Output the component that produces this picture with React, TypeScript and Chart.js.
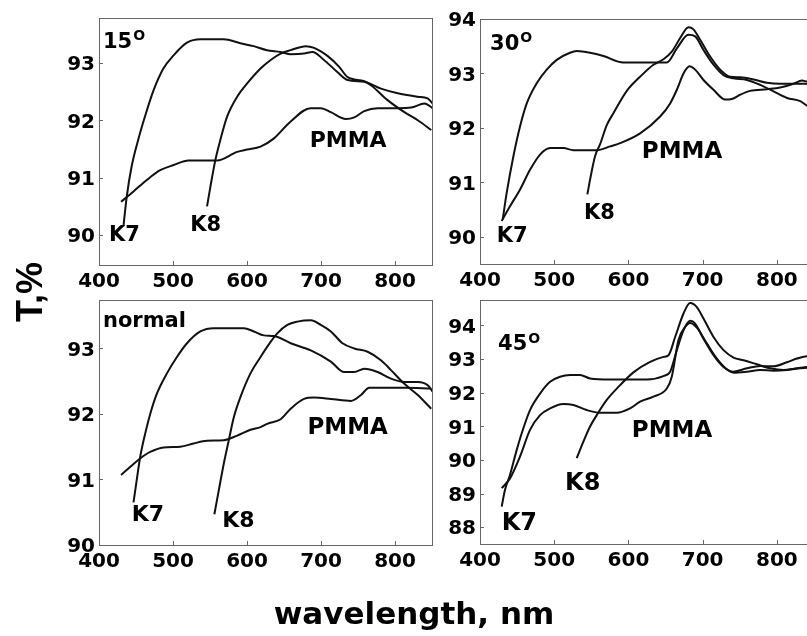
import React, { useEffect, useRef } from "react";
import { Chart, registerables } from "chart.js";
Chart.register(...registerables);

type Pt = [number, number];

// ---------- data ----------
const xTicks = [400, 500, 600, 700, 800];
const xMin = 400;
const xMax = 850;

// 15 degrees
const yTicks15 = [90, 91, 92, 93];
const k7_15: Pt[] = [[433,90.15],[437.5,90.67],[444,91.19],[453,91.66],[462,92.06],[473.7,92.52],[487,92.9],[500.8,93.13],[518.9,93.35],[537,93.41],[568.6,93.41],[591,93.34],[609,93.29],[627,93.22],[645.5,93.19],[659,93.15],[677,93.16],[688.4,93.19],[704,93.05],[722,92.84],[736,92.7],[758.5,92.67],[781,92.55],[803.7,92.47],[830.8,92.41],[844,92.38],[851,92.29]];
const k8_15: Pt[] = [[546,90.5],[550.5,90.84],[557.3,91.31],[564,91.66],[573,92.06],[586.7,92.41],[600.2,92.64],[618.3,92.9],[632,93.05],[645.5,93.16],[659,93.22],[679.4,93.29],[690.7,93.26],[708.7,93.12],[724.6,92.93],[736,92.75],[758.5,92.68],[767.5,92.61],[790,92.35],[812.7,92.14],[830.8,92.0],[849,91.83]];
const pm_15: Pt[] = [[429.8,90.58],[446.6,90.76],[464.6,90.96],[482.7,91.13],[500.8,91.22],[521,91.3],[559.5,91.3],[586.7,91.45],[600.2,91.49],[618.3,91.54],[636,91.68],[659,91.98],[686,92.21],[699.7,92.21],[713.3,92.14],[733.6,92.02],[745,92.05],[758.5,92.16],[776.5,92.21],[803.7,92.21],[821.8,92.22],[839.9,92.29],[851,92.21]];

// 30 degrees
const yTicks30 = [90, 91, 92, 93, 94];
const k7_30: Pt[] = [[430.6,90.32],[436,90.81],[445,91.48],[454,92.03],[463,92.45],[476.4,92.82],[489.9,93.07],[503.4,93.25],[521.3,93.38],[530.3,93.41],[548.3,93.38],[566.3,93.32],[593,93.2],[624.7,93.2],[642.7,93.2],[651.7,93.2],[665.2,93.46],[680.9,93.71],[689.9,93.68],[701.1,93.43],[714.6,93.16],[728.1,92.97],[741.6,92.91],[759.6,92.88],[777.5,92.79],[795.5,92.67],[813.5,92.55],[831.5,92.49],[840.5,92.41],[850,92.36]];
const k8_30: Pt[] = [[544.7,90.78],[548.3,91.05],[555,91.48],[561.8,91.7],[570.8,92.05],[579.8,92.27],[597.8,92.68],[615.7,92.94],[633.7,93.16],[647.2,93.26],[658.4,93.4],[669.7,93.65],[680.9,93.85],[687.6,93.81],[696.6,93.62],[710.1,93.31],[723.6,93.07],[737.1,92.94],[750.6,92.93],[768.5,92.89],[786.5,92.83],[804.5,92.81],[840.5,92.81],[850,92.81]];
const pm_30: Pt[] = [[429.2,90.29],[440.4,90.56],[454,90.87],[467.4,91.23],[480.9,91.51],[494.4,91.63],[512.4,91.63],[525.8,91.59],[557.3,91.59],[575.3,91.66],[588.8,91.72],[615.7,91.9],[642.7,92.21],[656.2,92.45],[665.2,92.7],[674.2,93.0],[682.3,93.13],[689.9,93.07],[701.1,92.88],[714.6,92.7],[730.3,92.52],[739.3,92.53],[750.6,92.61],[764,92.68],[786.5,92.71],[804.5,92.74],[822.5,92.81],[833.7,92.87],[840.5,92.85],[850,92.83]];

// normal incidence
const yTicksN = [90, 91, 92, 93];
const k7_n: Pt[] = [[446.6,90.65],[450.2,90.93],[455.6,91.34],[462.4,91.7],[469.2,92.0],[478.2,92.31],[491.8,92.62],[505.3,92.87],[518.9,93.08],[537,93.26],[555,93.31],[595.7,93.31],[609.3,93.26],[622.8,93.2],[636.4,93.19],[659,93.08],[686.2,92.97],[713.3,92.8],[731.3,92.64],[744.9,92.64],[758.5,92.69],[776.5,92.64],[794.6,92.54],[812.7,92.49],[830.8,92.49],[844.3,92.44],[851,92.34]];
const k8_n: Pt[] = [[555.9,90.47],[561.8,90.83],[568.6,91.24],[575.4,91.6],[582.2,91.95],[591.2,92.26],[604.7,92.62],[618.3,92.87],[631.9,93.1],[640.9,93.23],[654.5,93.36],[668.1,93.41],[686.2,93.43],[699.7,93.36],[713.3,93.26],[729.1,93.08],[744.9,93.0],[763,92.95],[781,92.82],[794.6,92.67],[812.7,92.46],[830.8,92.29],[848.9,92.08]];
const pm_n: Pt[] = [[429.8,91.07],[442,91.19],[455.6,91.32],[469.2,91.42],[487.2,91.49],[509.8,91.5],[527.9,91.55],[546,91.59],[568.6,91.6],[586.7,91.67],[604.7,91.76],[618.3,91.8],[627.3,91.85],[645.5,91.92],[659,92.08],[677.1,92.23],[690.7,92.25],[713.3,92.23],[740.4,92.2],[754,92.29],[765.2,92.4],[785.6,92.4],[812.7,92.4],[848.9,92.39]];

// 45 degrees
const yTicks45 = [88, 89, 90, 91, 92, 93, 94];
const k7_45: Pt[] = [[429.2,88.61],[433.7,89.11],[440.4,89.55],[449.4,90.29],[458.4,90.94],[467.4,91.48],[480.9,91.97],[494.4,92.32],[507.9,92.47],[521.3,92.52],[534.8,92.52],[548.3,92.42],[575.3,92.39],[602.2,92.39],[624.7,92.39],[647.2,92.49],[656.2,92.62],[665.2,93.26],[674.2,93.85],[683.1,94.13],[689.9,94.05],[701.1,93.6],[714.6,93.11],[728.1,92.76],[741.6,92.62],[759.6,92.72],[777.5,92.79],[795.5,92.78],[813.5,92.9],[827,93.01],[840.5,93.08],[850,93.08]];
const k8_45: Pt[] = [[530.3,90.05],[539.3,90.54],[548.3,90.99],[557.3,91.33],[570.8,91.78],[588.8,92.22],[606.7,92.6],[629.2,92.91],[647.2,93.06],[654,93.11],[662.9,93.65],[674.2,94.35],[683.1,94.66],[692.1,94.54],[701.1,94.2],[714.6,93.65],[728.1,93.26],[741.6,93.04],[755.1,92.96],[773,92.84],[791,92.72],[809,92.67],[827,92.72],[840.5,92.76],[850,92.78]];
const pm_45: Pt[] = [[429.2,89.16],[440.4,89.45],[453.9,90.1],[467.4,90.89],[480.9,91.33],[494.4,91.53],[512.4,91.66],[525.8,91.63],[543.8,91.48],[561.8,91.4],[584.3,91.4],[602.2,91.53],[615.7,91.73],[633.7,91.88],[651.7,92.12],[658.4,92.47],[667.4,93.56],[676.4,93.95],[683.1,94.07],[692.1,93.93],[705.6,93.46],[719.1,93.01],[732.6,92.69],[741.6,92.59],[759.6,92.62],[777.5,92.67],[795.5,92.65],[813.5,92.67],[831.5,92.72],[840.5,92.74],[850,92.75]];

// in-plot labels: [text, wavelength, T, font size, superscript-O]
type Lab = [string, number, number, number, boolean];
const labels15: Lab[] = [["15",405.4,93.26,21,true],["K7",413.6,89.9,21,false],["K8",523.4,90.07,21,false],["PMMA",684.7,91.53,22,false]];
const labels30: Lab[] = [["30",413.5,93.43,21,true],["K7",422.5,89.9,21,false],["K8",540.2,90.32,21,false],["PMMA",618,91.45,23,false]];
const labelsN: Lab[] = [["normal",405.4,93.33,21,false],["K7",444.3,90.36,22,false],["K8",566.4,90.28,22,false],["PMMA",681.6,91.7,23,false]];
const labels45: Lab[] = [["45",424.3,93.26,21,true],["K7",429.3,87.92,24,false],["K8",514.6,89.1,24,false],["PMMA",604.5,90.69,23,false]];

// ---------- layout ----------
type PanelCfg = {
  series: Pt[][]; yMin: number; yMax: number; yTicks: number[]; labels: Lab[];
  left: number; top: number; w: number; h: number;
  padTop: number; padRight: number; yW: number; xH: number;
};

const panels: PanelCfg[] = [
  { series: [k7_15, k8_15, pm_15], yMin: 89.48, yMax: 93.78, yTicks: yTicks15, labels: labels15,
    left: 40, top: 0, w: 400, h: 300, padTop: 18, padRight: 8, yW: 59, xH: 35 },
  { series: [k7_30, k8_30, pm_30], yMin: 89.5, yMax: 94, yTicks: yTicks30, labels: labels30,
    left: 436, top: 0, w: 390, h: 300, padTop: 19, padRight: 12, yW: 44, xH: 36 },
  { series: [k7_n, k8_n, pm_n], yMin: 90, yMax: 93.74, yTicks: yTicksN, labels: labelsN,
    left: 40, top: 290, w: 400, h: 310, padTop: 10, padRight: 8, yW: 59, xH: 55 },
  { series: [k7_45, k8_45, pm_45], yMin: 87.5, yMax: 94.75, yTicks: yTicks45, labels: labels45,
    left: 436, top: 290, w: 390, h: 310, padTop: 10, padRight: 12, yW: 44, xH: 56 },
];

const FONT = "'DejaVu Sans', sans-serif";
const TICK_SIZE = 20;

const decoPlugin = {
  id: "deco",
  afterDatasetsDraw(chart: any) {
    const { ctx, chartArea: a, scales } = chart;
    const cfg: PanelCfg = chart.options.plugins.deco.cfg;
    ctx.save();
    // frame
    ctx.strokeStyle = "#666";
    ctx.lineWidth = 1;
    ctx.strokeRect(Math.round(a.left) + 0.5, Math.round(a.top) + 0.5, Math.round(a.right - a.left), Math.round(a.bottom - a.top));
    // inward tick marks
    ctx.beginPath();
    for (const t of scales.x.ticks) {
      const px = Math.round(scales.x.getPixelForValue(t.value)) + 0.5;
      ctx.moveTo(px, a.bottom);
      ctx.lineTo(px, a.bottom - 4);
    }
    for (const t of scales.y.ticks) {
      const py = Math.round(scales.y.getPixelForValue(t.value)) + 0.5;
      ctx.moveTo(a.left, py);
      ctx.lineTo(a.left + 4, py);
    }
    ctx.stroke();
    ctx.fillStyle = "#000";
    // y tick labels, right-aligned next to the axis
    ctx.font = `bold ${TICK_SIZE}px ${FONT}`;
    ctx.textAlign = "right";
    ctx.textBaseline = "alphabetic";
    for (const t of scales.y.ticks) {
      const py = scales.y.getPixelForValue(t.value);
      ctx.fillText(String(t.value), a.left - 4, py + TICK_SIZE * 0.365);
    }
    // in-plot annotations
    ctx.textAlign = "left";
    for (const [text, x, y, size, sup] of cfg.labels) {
      const px = scales.x.getPixelForValue(x);
      const py = scales.y.getPixelForValue(y);
      ctx.font = `bold ${size}px ${FONT}`;
      ctx.fillText(text, px, py);
      if (sup) {
        const w = ctx.measureText(text).width;
        ctx.font = `bold 14px ${FONT}`;
        ctx.fillText("O", px + w + 1, py - size * 0.36);
      }
    }
    ctx.restore();
  },
};

function Panel({ cfg }: { cfg: PanelCfg }) {
  const ref = useRef<HTMLCanvasElement>(null);
  useEffect(() => {
    const tickFont = { family: FONT, weight: "bold" as const, size: TICK_SIZE };
    const chart = new Chart(ref.current as HTMLCanvasElement, {
      type: "line",
      data: {
        datasets: cfg.series.map((s) => ({
          data: s.map(([x, y]) => ({ x, y })),
          borderColor: "#111",
          borderWidth: 2,
          pointRadius: 0,
          fill: false,
          cubicInterpolationMode: "monotone" as const,
        })),
      },
      options: {
        responsive: false,
        animation: false,
        devicePixelRatio: 1,
        layout: { padding: { top: cfg.padTop, right: cfg.padRight, left: 0, bottom: 0 } },
        plugins: {
          legend: { display: false },
          tooltip: { enabled: false },
          // @ts-ignore
          deco: { cfg },
        },
        scales: {
          x: {
            type: "linear",
            min: xMin,
            max: xMax,
            grid: { display: false },
            border: { display: false },
            ticks: { font: tickFont, color: "#000", padding: -3, maxRotation: 0, autoSkip: false },
            afterBuildTicks: (s: any) => { s.ticks = xTicks.map((v) => ({ value: v })); },
            afterFit: (s: any) => { s.height = cfg.xH; },
          },
          y: {
            type: "linear",
            min: cfg.yMin,
            max: cfg.yMax,
            grid: { display: false },
            border: { display: false },
            ticks: { display: false },
            afterBuildTicks: (s: any) => { s.ticks = cfg.yTicks.map((v) => ({ value: v })); },
            afterFit: (s: any) => { s.width = cfg.yW; },
          },
        },
      },
      plugins: [decoPlugin],
    });
    return () => chart.destroy();
  }, [cfg]);
  return (
    <canvas
      ref={ref}
      width={cfg.w}
      height={cfg.h}
      style={{ position: "absolute", left: cfg.left, top: cfg.top, width: cfg.w, height: cfg.h }}
    />
  );
}

export default function App() {
  return (
    <div style={{ position: "absolute", left: 0, top: 0, width: 807, height: 636, overflow: "hidden", background: "#fff" }}>
      {panels.map((p, i) => (
        <Panel key={i} cfg={p} />
      ))}
      <div
        style={{
          position: "absolute", left: -21, top: 272, width: 100, height: 40, lineHeight: "40px",
          textAlign: "center", transform: "rotate(-90deg)",
          font: "bold 36px 'Liberation Sans', Arial, sans-serif", color: "#000",
        }}
      >
        T,%
      </div>
      <div
        style={{
          position: "absolute", left: 114, top: 595, width: 600, height: 36, lineHeight: "31px",
          textAlign: "center", font: "bold 31px 'DejaVu Sans', sans-serif", color: "#000",
        }}
      >
        wavelength, nm
      </div>
    </div>
  );
}
